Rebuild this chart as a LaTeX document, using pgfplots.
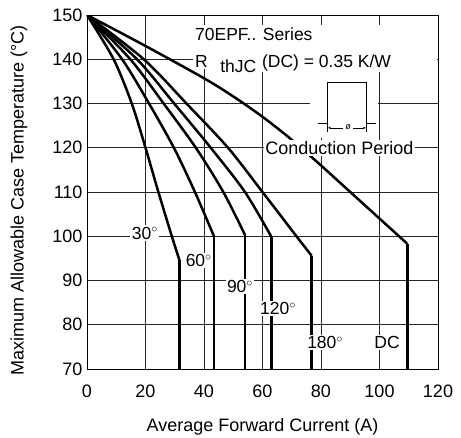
\documentclass[border=0pt]{standalone}
\usepackage{fontspec}
\setmainfont{Liberation Sans}
\usepackage{pgfplots}
\pgfplotsset{compat=1.18}
\usetikzlibrary{arrows.meta}

\newcommand{\fs}{\fontsize{18bp}{21bp}\selectfont}
\newcommand{\fa}{\fontsize{17.5bp}{20bp}\selectfont}

\begin{document}
\begin{tikzpicture}
\begin{axis}[
    scale only axis, width=351bp, height=354bp,
    xmin=0, xmax=120, ymin=70, ymax=150,
    xtick={0,20,...,120}, ytick={70,80,...,150},
    grid=major, major grid style={black!85, line width=0.8bp},
    major tick length=0pt,
    axis line style={line width=0.9bp},
    tick label style={font=\fs},
    /pgf/number format/assume math mode=true,
    xticklabel style={anchor=center, yshift=-22.5bp},
    yticklabel style={anchor=east, xshift=-1bp},
    xlabel={Average Forward Current (A)},
    ylabel={Maximum Allowable Case Temperature (°C)},
    xlabel style={at={(axis description cs:0.5,-0.163)}, anchor=center, font=\fs},
    ylabel style={at={(axis description cs:-0.194,0.477)}, anchor=center, font=\fs},
    every axis plot/.append style={black, solid, mark=none, line width=2.5bp},
]
\coordinate (sw) at (rel axis cs:0,0);
% 30 deg
\addplot[smooth] coordinates {(0,150) (9.1,140) (15.3,130) (20.0,120) (24.4,110) (29.0,100) (31.6,94.6)};
\addplot[sharp plot] coordinates {(31.6,94.6) (31.6,70)};
% 60 deg
\addplot[smooth] coordinates {(0,150) (12,140) (21.2,130) (29.7,120) (36.9,110) (43.4,100)};
\addplot[sharp plot] coordinates {(43.4,100) (43.4,70)};
% 90 deg
\addplot[smooth] coordinates {(0,150) (14.8,140) (26.2,130) (37.2,120) (46.6,110) (54.0,100.3)};
\addplot[sharp plot] coordinates {(54.0,100.3) (54.0,70)};
% 120 deg
\addplot[smooth] coordinates {(0,150) (17.1,140) (29.8,130) (42.3,120) (54,110) (63.1,99.8)};
\addplot[sharp plot] coordinates {(63.1,99.8) (63.1,70)};
% 180 deg
\addplot[smooth] coordinates {(0,150) (19.4,140) (34,130) (48.2,120) (60.0,110) (71.6,100) (76.8,95.6)};
\addplot[sharp plot] coordinates {(76.8,95.6) (76.8,70)};
% DC
\addplot[smooth] coordinates {(0,150) (20,143) (40,135.7) (50,131.6) (60,127) (70,121.8) (80,116) (90,110) (100,104) (109.5,98.3)};
\addplot[sharp plot] coordinates {(109.5,98.3) (109.5,70)};

% curve labels
\node[fill=white, inner sep=1.5bp, font=\fa] at (axis cs:19.8,100.7) {30$^{\circ}$};
\node[fill=white, inner sep=1.5bp, font=\fa] at (axis cs:38.2,94.5) {60$^{\circ}$};
\node[fill=white, inner sep=1.5bp, font=\fa] at (axis cs:52.3,88.7) {90$^{\circ}$};
\node[fill=white, inner sep=1.5bp, font=\fa] at (axis cs:65.3,83.7) {120$^{\circ}$};
\node[fill=white, inner sep=1.5bp, font=\fa] at (axis cs:81.4,76.0) {180$^{\circ}$};
\node[fill=white, inner sep=1.5bp, font=\fa] at (axis cs:102.6,76.0) {DC};

% series text
\fill[white] (axis cs:36.3,137.9) rectangle (axis cs:119.6,147.7);
\node[fill=white, inner sep=1.5bp, anchor=base west, xshift=-1.5bp, font=\fa] at (axis cs:36.9,144.3) {70EPF.. Series};
\node[fill=white, inner sep=1.5bp, anchor=base west, xshift=-1.5bp, font=\fa] at (axis cs:36.9,138.2) {R};
\node[fill=white, inner sep=1.5bp, anchor=base west, xshift=-1.5bp, font=\fa] at (axis cs:45.5,137.1) {thJC};
\node[fill=white, inner sep=1.5bp, anchor=base west, xshift=-1.5bp, font=\fa] at (axis cs:59.8,138.2) {(DC) = 0.35 K/W};

% conduction period icon
\fill[white] (axis cs:76.2,122.3) rectangle (axis cs:99.6,137.9);
\draw[line width=0.9bp] (axis cs:79.1,125.5) -- (axis cs:82.3,125.5);
\draw[line width=0.9bp] (axis cs:82.3,123.6) -- (axis cs:82.3,134.7) -- (axis cs:95.4,134.7) -- (axis cs:95.4,123.6);
\draw[line width=0.9bp] (axis cs:95.4,125.5) -- (axis cs:98.7,125.5);
\draw[line width=0.6bp, -{Stealth[length=3bp, width=2.5bp]}] (axis cs:87.6,124.5) -- (axis cs:82.4,124.5);
\draw[line width=0.6bp, -{Stealth[length=3bp, width=2.5bp]}] (axis cs:91.0,124.5) -- (axis cs:95.3,124.5);
\node[font=\fontsize{9bp}{10bp}\selectfont, inner sep=0pt] at (axis cs:89.3,124.6) {ø};
\node[fill=white, inner sep=1.5bp, font=\fs] at (axis cs:86.3,119.9) {Conduction Period};
\end{axis}
\pgfresetboundingbox
\path[use as bounding box] ([xshift=-87bp, yshift=-69bp]sw) rectangle ([xshift=374bp, yshift=369bp]sw);
\end{tikzpicture}
\end{document}
